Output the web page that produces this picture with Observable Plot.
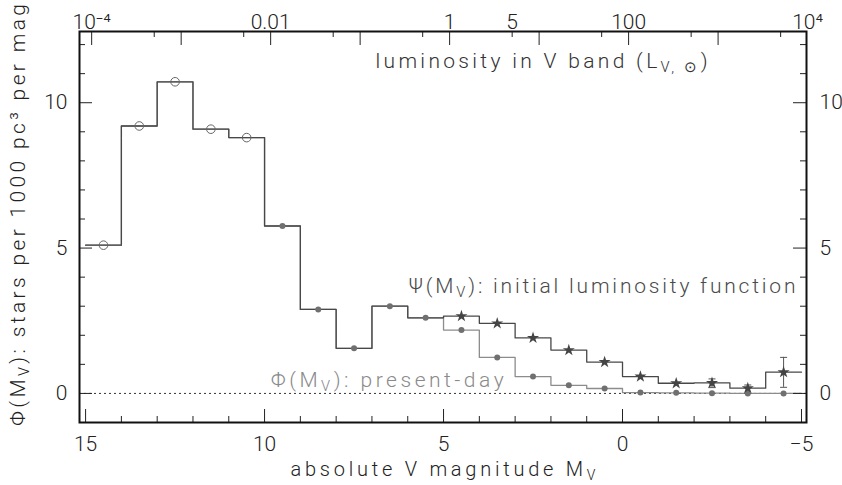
<!DOCTYPE html>
<html>
<head>
<meta charset="utf-8">
<script src="https://cdn.jsdelivr.net/npm/d3@7"></script>
<script src="https://cdn.jsdelivr.net/npm/@observablehq/plot@0.6"></script>
<style>
  html, body { margin: 0; padding: 0; background: #fff; }
  svg text { font-weight: 300; }
</style>
</head>
<body>
<div id="chart"></div>
<script>
// ---- data ----
const binCenters = [14.5, 13.5, 12.5, 11.5, 10.5, 9.5, 8.5, 7.5, 6.5, 5.5, 4.5, 3.5, 2.5, 1.5, 0.5, -0.5, -1.5, -2.5, -3.5, -4.5];
const phiValues  = [5.10, 9.20, 10.72, 9.09, 8.80, 5.76, 2.89, 1.55, 3.00, 2.60, 2.18, 1.24, 0.58, 0.28, 0.17, 0.03, 0.02, 0.01, 0.00, 0.00];
const psiValues  = [5.10, 9.20, 10.72, 9.09, 8.80, 5.76, 2.89, 1.55, 3.00, 2.60, 2.66, 2.41, 1.91, 1.49, 1.08, 0.58, 0.35, 0.36, 0.18, 0.73];
const phiMarker  = ["open","open","open","open","open","dot","dot","dot","dot","dot","dot","dot","dot","dot","dot","dot","dot","dot","dot","dot"];
const psiStarBins = [4.5, 3.5, 2.5, 1.5, 0.5, -0.5, -1.5, -2.5, -3.5, -4.5];
const errBins = [-2.5, -3.5, -4.5];
const errLow  = [0.20, 0.00, 0.21];
const errHigh = [0.50, 0.29, 1.24];

const xMajorTicks = [15, 10, 5, 0, -5];
const xMinorTicks = [14, 13, 12, 11, 9, 8, 7, 6, 4, 3, 2, 1, -1, -2, -3, -4];
const yMajorTicks = [0, 5, 10];
const yMinorTicks = [1, 2, 3, 4, 6, 7, 8, 9, 11, 12];
const lumMajorTicks = [1e-4, 1e-3, 1e-2, 1e-1, 1, 10, 100, 1000];
const lumMinorTicks = [5e-4, 5e-3, 5e-2, 0.5, 5, 50, 500, 5000];
const lumLabelValues = [1e-4, 0.01, 1, 5, 100, 1e4];
const lumLabelTexts  = ["10\u207B\u2074", "0.01", "1", "5", "100", "10\u2074"];
const M_V_SUN = 4.83;

// ---- derived tables ----
const lumToMag = L => M_V_SUN - 2.5 * Math.log10(L);
const binHalf = 0.5;
const steps = vals => binCenters.flatMap((c, i) => [{x: c + binHalf, y: vals[i]}, {x: c - binHalf, y: vals[i]}]);
const phiSteps = steps(phiValues);
const psiSteps = steps(psiValues);
const phiPts = binCenters.map((c, i) => ({x: c, y: phiValues[i], kind: phiMarker[i]}));
const starPts = psiStarBins.map(c => ({x: c, y: psiValues[binCenters.indexOf(c)]}));
const errPts = errBins.map((c, i) => ({x: c, lo: errLow[i], hi: errHigh[i]}));
const capPts = errPts.flatMap(d => [{x: d.x, y: d.lo}, {x: d.x, y: d.hi}]);
const lumLabels = lumLabelValues.map((L, i) => ({x: lumToMag(L), t: lumLabelTexts[i]}));

const W = 842, H = 485, mL = 79, mR = 36, mT = 31, mB = 63;
const plotW = W - mL - mR, plotH = H - mT - mB;
const capSymbol = {draw(ctx, size) { const r = Math.sqrt(size / Math.PI); ctx.moveTo(-r, 0); ctx.lineTo(r, 0); }};
const font = "Roboto, 'DejaVu Sans', sans-serif";
const ink = "#222";

const svg = Plot.plot({
  width: W, height: H,
  marginLeft: mL, marginRight: mR, marginTop: mT, marginBottom: mB,
  style: {fontFamily: font, fontSize: "21px", color: ink, background: "#fff", overflow: "visible"},
  x: {domain: [15.17, -5.14]},
  y: {domain: [-1, 12.45]},
  marks: [
    Plot.ruleY([0], {stroke: "#333", strokeDasharray: "2,3", strokeWidth: 1}),
    Plot.line(phiSteps, {x: "x", y: "y", stroke: "#8c8c8c", strokeWidth: 1.3}),
    Plot.line(psiSteps, {x: "x", y: "y", stroke: "#484848", strokeWidth: 1.3}),
    Plot.ruleX(errPts, {x: "x", y1: "lo", y2: "hi", stroke: "#555", strokeWidth: 1}),
    Plot.dot(capPts, {x: "x", y: "y", symbol: capSymbol, r: 3.5, stroke: "#555", fill: "none", strokeWidth: 1}),
    Plot.dot(phiPts.filter(d => d.kind === "open"), {x: "x", y: "y", r: 4.3, stroke: "#666", fill: "none", strokeWidth: 1}),
    Plot.dot(phiPts.filter(d => d.kind === "dot"), {x: "x", y: "y", r: 3, fill: "#707070", stroke: "none"}),
    Plot.dot(starPts, {x: "x", y: "y", symbol: "star", r: 3.8, fill: "#444", stroke: "none"}),
    // inward ticks
    Plot.tickX(xMajorTicks, {x: d => d, insetTop: plotH - 13, stroke: ink}),
    Plot.tickX(xMinorTicks, {x: d => d, insetTop: plotH - 6, stroke: ink}),
    Plot.tickX(lumMajorTicks, {x: lumToMag, insetBottom: plotH - 14, stroke: ink}),
    Plot.tickX(lumMinorTicks, {x: lumToMag, insetBottom: plotH - 6, stroke: ink}),
    Plot.tickY(yMajorTicks, {y: d => d, insetRight: plotW - 13, stroke: ink}),
    Plot.tickY(yMinorTicks, {y: d => d, insetRight: plotW - 6, stroke: ink}),
    Plot.tickY(yMajorTicks, {y: d => d, insetLeft: plotW - 13, stroke: ink}),
    Plot.tickY(yMinorTicks, {y: d => d, insetLeft: plotW - 6, stroke: ink}),
    Plot.frame({stroke: "#111", strokeWidth: 2}),
    // tick labels
    Plot.axisX({ticks: xMajorTicks, tickSize: 0, tickPadding: 14, label: null, fill: ink}),
    Plot.axisY({anchor: "left", ticks: yMajorTicks, tickSize: 0, tickPadding: 12, label: null, fill: ink}),
    Plot.axisY({anchor: "right", ticks: yMajorTicks, tickSize: 0, tickPadding: 13, label: null, fill: ink}),
    Plot.text(lumLabels, {x: "x", text: "t", frameAnchor: "top", dy: -17, fill: ink}),
    // axis titles
    Plot.text(["absolute V magnitude M_{V}"], {frameAnchor: "bottom", dy: 53, fill: ink, fontSize: 20}),
    Plot.text(["\u03A6(M_{V}): stars per 1000 pc\u00B3 per mag"], {frameAnchor: "left", rotate: -90, dx: -61, dy: 199, textAnchor: "start", fill: ink, fontSize: 21}),
    // annotations
    Plot.text(["luminosity in V band (L_{V, \u2299})"], {x: 6.9, y: 11.19, textAnchor: "start", lineAnchor: "bottom", fill: "#333", fontSize: 21}),
    Plot.text(["\u03A8(M_{V}): initial luminosity function"], {x: 5.98, y: 3.45, textAnchor: "start", lineAnchor: "bottom", fill: "#4a4a4a", fontSize: 21}),
    Plot.text(["\u03A6(M_{V}): present-day"], {x: 9.83, y: 0.22, textAnchor: "start", lineAnchor: "bottom", fill: "#8a8a8a", fontSize: 21})
  ]
});

// target widths for the long labels (spacing only)
const widths = {
  "absolute V magnitude M_{V}": 305,
  "luminosity in V band (L_{V, \u2299})": 332,
  "\u03A8(M_{V}): initial luminosity function": 387,
  "\u03A6(M_{V}): present-day": 233,
  "\u03A6(M_{V}): stars per 1000 pc\u00B3 per mag": 422
};
const NS = "http://www.w3.org/2000/svg";
svg.querySelectorAll("text").forEach(t => {
  const targets = t.querySelector("tspan") ? [...t.querySelectorAll("tspan")] : [t];
  targets.forEach(el => {
    const s = el.textContent;
    const w = widths[s];
    if (w) { t.setAttribute("textLength", w); t.setAttribute("lengthAdjust", "spacing"); }
    if (!/[_^]\{/.test(s)) return;
    el.textContent = "";
    const re = /([_^])\{([^}]*)\}/g; let last = 0, m;
    const add = (str, sub) => {
      const sp = document.createElementNS(NS, "tspan");
      sp.textContent = str;
      if (sub) { sp.setAttribute("font-size", "70%"); sp.setAttribute("baseline-shift", sub === "_" ? "-28%" : "40%"); }
      el.appendChild(sp);
    };
    while ((m = re.exec(s))) {
      if (m.index > last) add(s.slice(last, m.index));
      add(m[2], m[1]);
      last = re.lastIndex;
    }
    if (last < s.length) add(s.slice(last));
  });
});
document.getElementById("chart").appendChild(svg);
</script>
</body>
</html>
